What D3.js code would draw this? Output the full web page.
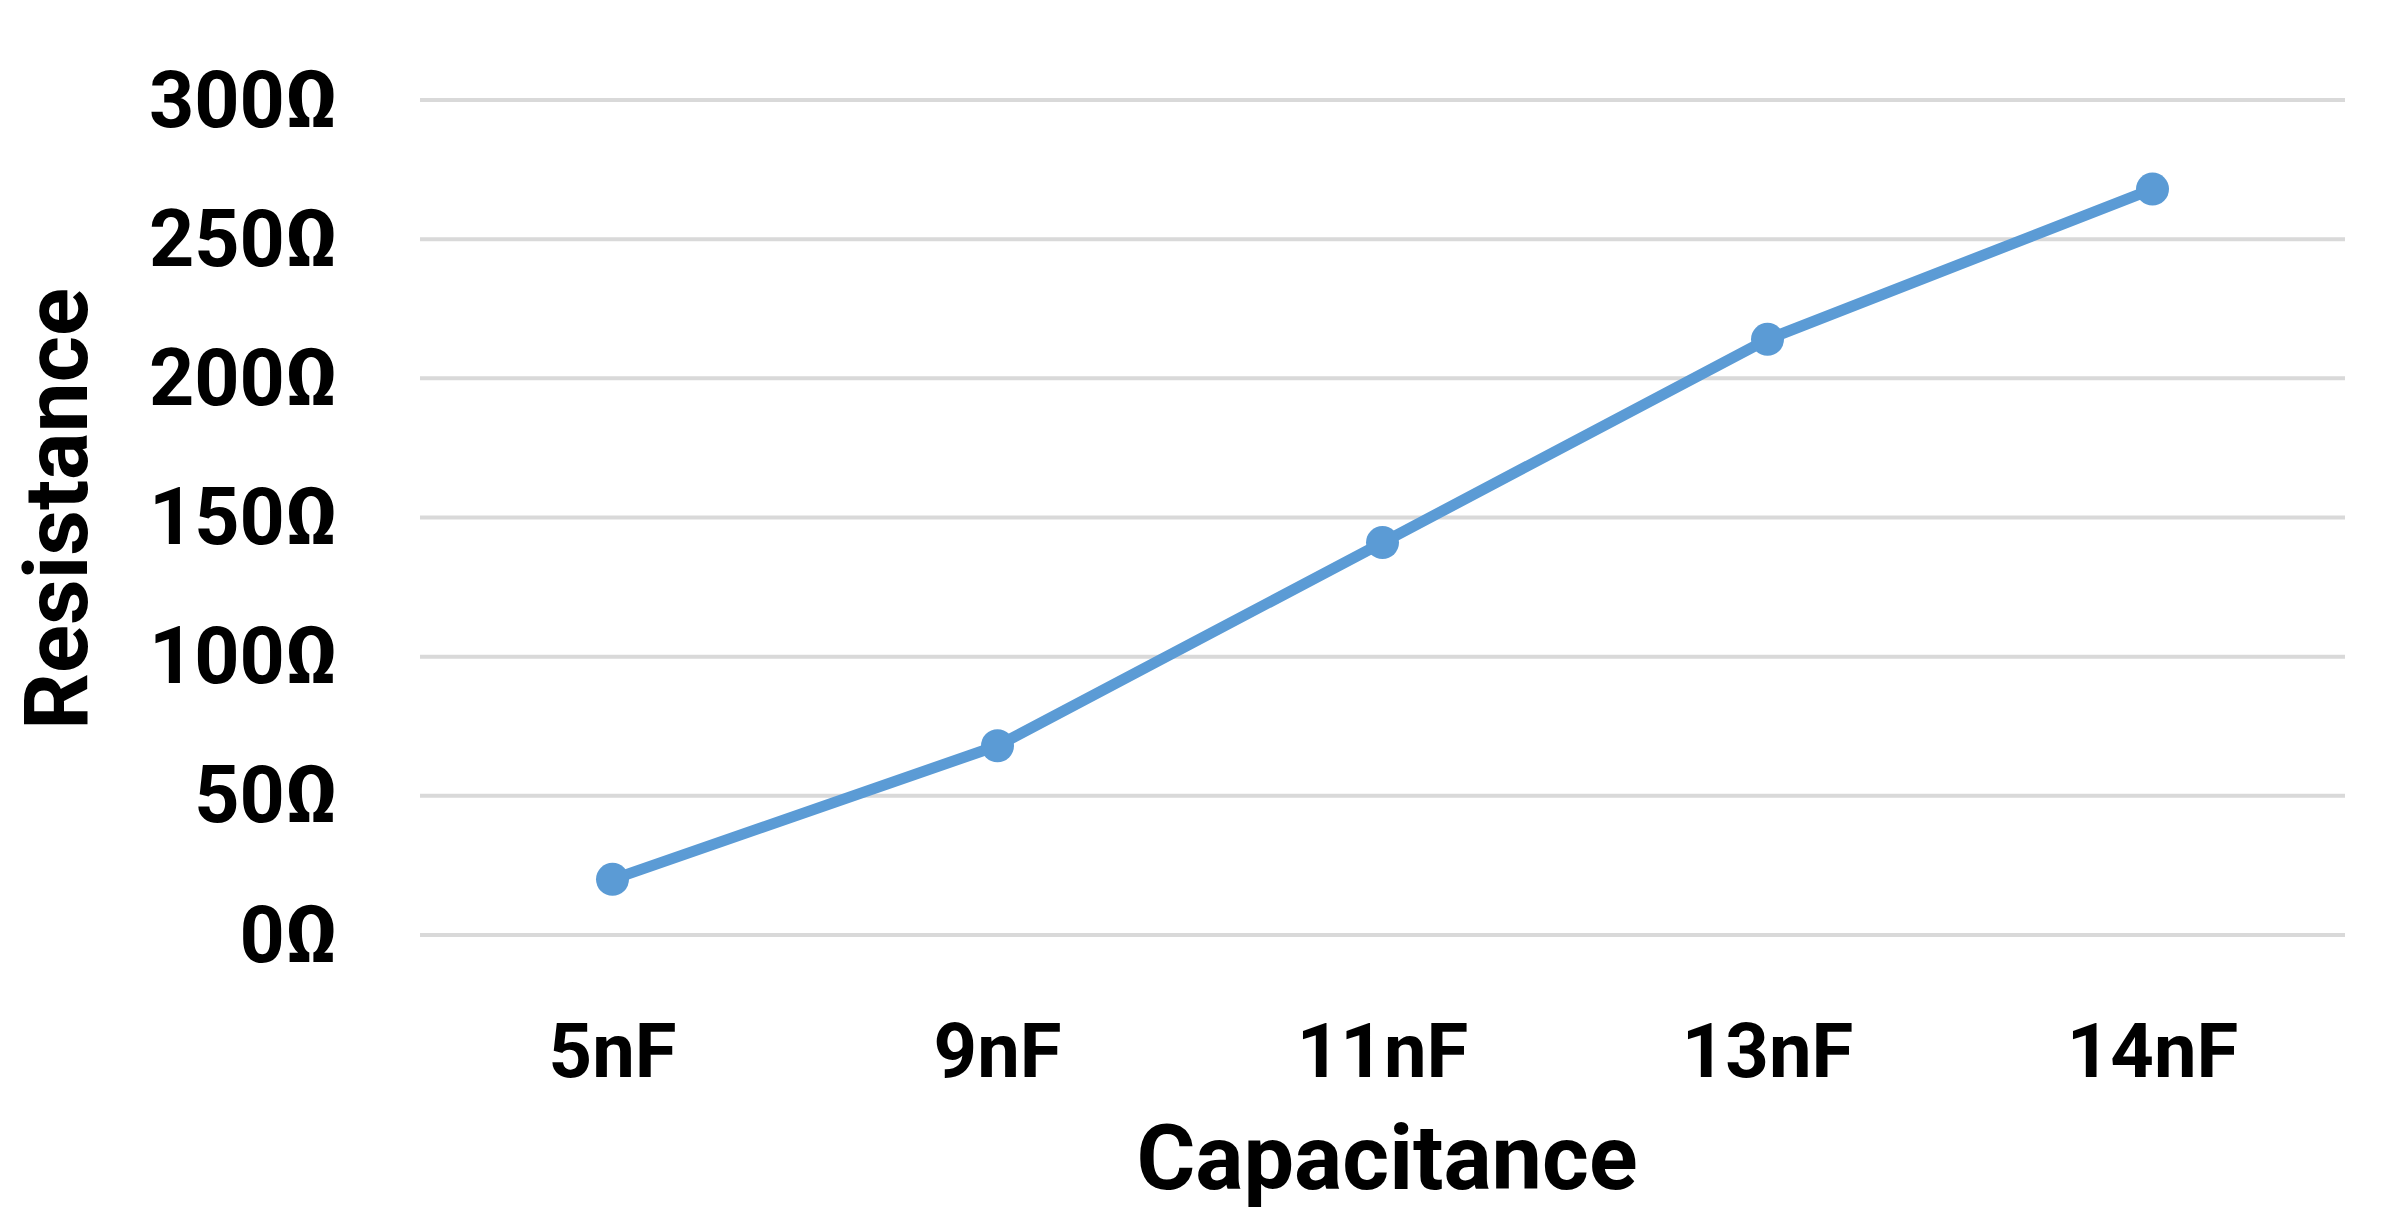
<!DOCTYPE html>
<html lang="en-us">
  <head>
    <meta charset="utf-8">
    <title>Resistance vs Capacitance</title>
    <script src="https://cdn.jsdelivr.net/npm/d3@7/dist/d3.min.js"></script>
    <style>
      body { margin: 0; background: #fff; }
      text { font-family: Roboto, "Open Sans", sans-serif; font-weight: 700; fill: #000; }
    </style>
  </head>
  <body>
    <div id="chart"></div>
    <script>

var categories = ["5nF", "9nF", "11nF", "13nF", "14nF"];
var resistance = [20, 68, 141, 214, 268];
var yTicks = [0, 50, 100, 150, 200, 250, 300];

var width = 2390,
    height = 1228,
    margin = {top: 100, right: 45, bottom: 293, left: 420};

var svg = d3.select("#chart").append("svg")
    .attr("width", width)
    .attr("height", height);

var x = d3.scaleBand()
    .domain(categories)
    .range([margin.left, width - margin.right]);

var y = d3.scaleLinear()
    .domain([0, 300])
    .range([height - margin.bottom, margin.top]);

// gridlines
svg.append("g")
    .selectAll("line")
    .data(yTicks)
    .enter().append("line")
    .attr("x1", margin.left)
    .attr("x2", width - margin.right)
    .attr("y1", function(d) { return y(d); })
    .attr("y2", function(d) { return y(d); })
    .style("stroke", "#d9d9d9")
    .style("stroke-width", 4);

// y tick labels
var yAxis = d3.axisLeft(y)
    .tickValues(yTicks)
    .tickSize(0)
    .tickPadding(0)
    .tickFormat(function(d) { return d + "\u03A9"; });

var gy = svg.append("g")
    .attr("transform", "translate(338,0)")
    .call(yAxis);
gy.select(".domain").remove();
gy.selectAll("text")
    .attr("font-size", 79)
    .attr("dy", 26)
    .style("font-family", null);

// x tick labels
var xAxis = d3.axisBottom(x)
    .tickSize(0)
    .tickPadding(0);

var gx = svg.append("g")
    .attr("transform", "translate(0,1077)")
    .call(xAxis);
gx.select(".domain").remove();
gx.selectAll("text")
    .attr("font-size", 76)
    .attr("dy", 0)
    .attr("y", 0)
    .style("font-family", null);

// line
var line = d3.line()
    .x(function(d, i) { return x(categories[i]) + x.bandwidth() / 2; })
    .y(function(d) { return y(d); });

svg.append("path")
    .datum(resistance)
    .attr("d", line)
    .style("fill", "none")
    .style("stroke", "#5b9bd5")
    .style("stroke-width", 11)
    .style("stroke-linejoin", "round");

svg.append("g")
    .selectAll("circle")
    .data(resistance)
    .enter().append("circle")
    .attr("cx", function(d, i) { return x(categories[i]) + x.bandwidth() / 2; })
    .attr("cy", function(d) { return y(d); })
    .attr("r", 16.5)
    .style("fill", "#5b9bd5");

// axis titles
svg.append("text")
    .attr("x", 1387)
    .attr("y", 1189)
    .attr("text-anchor", "middle")
    .attr("font-size", 90)
    .text("Capacitance");

svg.append("text")
    .attr("transform", "translate(87,509) rotate(-90)")
    .attr("text-anchor", "middle")
    .attr("font-size", 89)
    .text("Resistance");

    </script>
  </body>
</html>
